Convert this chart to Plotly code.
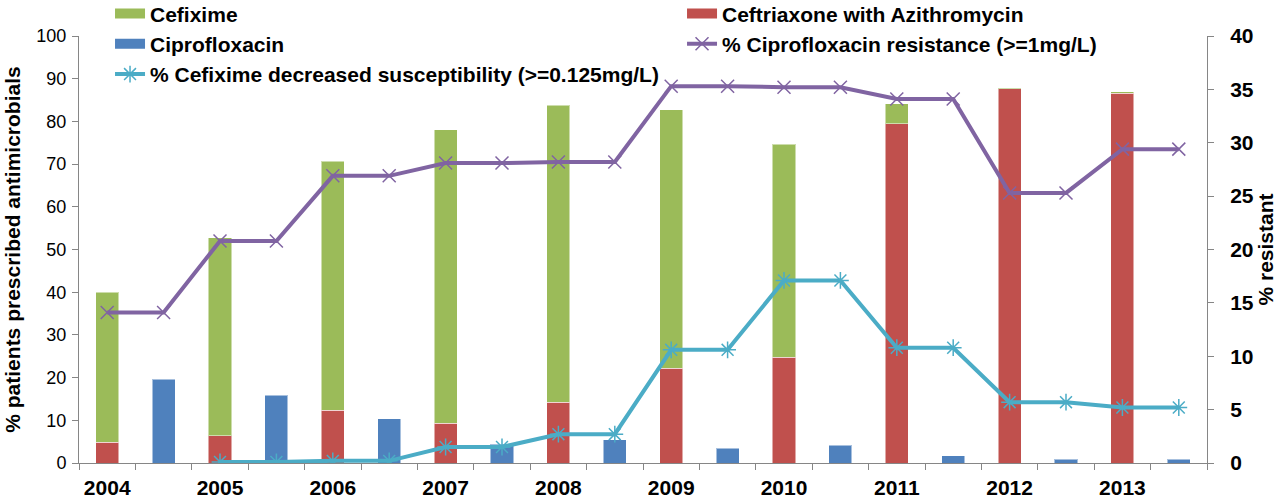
import plotly.graph_objects as go

# Prescribing (left axis, % patients) and resistance (right axis, %) by year
years = ["2004", "2005", "2006", "2007", "2008", "2009", "2010", "2011", "2012", "2013"]
ceftriaxone_azithromycin = [4.9, 6.4, 12.3, 9.3, 14.2, 22.2, 24.8, 79.4, 87.6, 86.6]
cefixime = [35.1, 46.3, 58.4, 68.7, 69.6, 60.5, 49.9, 4.7, 0.3, 0.3]
ciprofloxacin = [19.6, 15.9, 10.4, 4.4, 5.4, 3.4, 4.2, 1.7, 0.9, 0.9]

# resistance series, two points per year (first and second half)
cipro_resistance = [14.1, 14.1, 20.8, 20.8, 26.9, 26.9, 28.1, 28.1, 28.2, 28.2,
                    35.3, 35.3, 35.2, 35.2, 34.1, 34.1, 25.3, 25.3, 29.4, 29.4]
cefixime_decreased = [None, None, 0.1, 0.1, 0.2, 0.2, 1.5, 1.5, 2.7, 2.7,
                      10.6, 10.6, 17.1, 17.1, 10.8, 10.8, 5.7, 5.7, 5.2, 5.2]

# two slots per year: stacked bar in the first, ciprofloxacin bar in the second
year_x = [2 * i for i in range(len(years))]
half_x = [2 * i + 1 for i in range(len(years))]
slot_x = list(range(2 * len(years)))

FONT = "Liberation Sans, Arial, sans-serif"
GREY = "#868686"
BOLD = dict(family=FONT, size=21, color="black", weight="bold")

RED, GREEN, BLUE = "#C0504D", "#9BBB59", "#4F81BD"
PURPLE, CYAN = "#8064A2", "#4BACC6"
EDGE = dict(color="rgba(255,255,255,0.5)", width=1)


def bar(x, y, name, color):
    return go.Bar(x=x, y=y, name=name, width=0.41, legendgroup=name,
                  showlegend=False, marker=dict(color=color, line=EDGE))


def swatch(name, color, legend, rank):
    # wide legend key like the spreadsheet original
    return go.Scatter(x=[None], y=[None], mode="lines", name=name, legendgroup=name,
                      legend=legend, legendrank=rank,
                      line=dict(color=color, width=10))


fig = go.Figure()

# red first so it sits at the bottom of the stack
fig.add_trace(bar(year_x, ceftriaxone_azithromycin, "Ceftriaxone with Azithromycin", RED))
fig.add_trace(bar(year_x, cefixime, "Cefixime", GREEN))
fig.add_trace(bar(half_x, ciprofloxacin, "Ciprofloxacin", BLUE))

fig.add_trace(go.Scatter(
    x=slot_x, y=cipro_resistance, yaxis="y2", mode="lines+markers",
    name="% Ciprofloxacin resistance (>=1mg/L)", legend="legend2", legendrank=2,
    line=dict(color=PURPLE, width=4),
    marker=dict(symbol="x-thin", size=13, color=PURPLE, line=dict(color=PURPLE, width=1.5)),
))
fig.add_trace(go.Scatter(
    x=slot_x, y=cefixime_decreased, yaxis="y2", mode="lines+markers",
    name="% Cefixime decreased susceptibility (>=0.125mg/L)", legend="legend", legendrank=3,
    line=dict(color=CYAN, width=4),
    marker=dict(symbol="asterisk", size=14, color=CYAN, line=dict(color=CYAN, width=1.5)),
))

fig.add_trace(swatch("Cefixime", GREEN, "legend", 1))
fig.add_trace(swatch("Ciprofloxacin", BLUE, "legend", 2))
fig.add_trace(swatch("Ceftriaxone with Azithromycin", RED, "legend2", 1))

legend_style = dict(
    orientation="v", xanchor="left", yanchor="top", y=1.1,
    font=BOLD, bgcolor="rgba(0,0,0,0)", traceorder="normal", tracegroupgap=0,
)

fig.update_layout(
    width=1277,
    height=501,
    barmode="stack",
    template="plotly_white",
    plot_bgcolor="white",
    paper_bgcolor="white",
    margin=dict(l=79, r=70, t=36, b=38, pad=0, autoexpand=False),
    font=dict(family=FONT, color="black"),
    legend=dict(x=0.0275, **legend_style),
    legend2=dict(x=0.5346, **legend_style),
    xaxis=dict(
        range=[-0.5, 19.5], tickmode="array", tickvals=year_x, ticktext=years,
        ticks="", showline=True, linecolor=GREY, linewidth=1, ticklabelstandoff=6,
        showgrid=False, zeroline=False, tickfont=BOLD, automargin=False,
        minor=dict(tickmode="array", tickvals=[x - 0.5 for x in slot_x] + [19.5],
                   ticks="outside", ticklen=6, tickcolor=GREY, showgrid=False),
    ),
    yaxis=dict(
        range=[0, 100], dtick=10, ticks="outside", ticklen=6, tickcolor=GREY,
        showline=True, linecolor=GREY, showgrid=False, zeroline=False,
        ticklabelstandoff=2,
        tickfont=dict(family=FONT, size=18, color="black"), automargin=False,
        title=dict(text="% patients prescribed antimicrobials", font=BOLD, standoff=10),
    ),
    yaxis2=dict(
        overlaying="y", side="right", range=[0, 40], dtick=5,
        ticks="outside", ticklen=6, tickcolor=GREY,
        showline=True, linecolor=GREY, showgrid=False, zeroline=False,
        ticklabelstandoff=12, tickfont=BOLD, automargin=False,
        title=dict(text="% resistant", font=BOLD, standoff=8),
    ),
)

fig.write_html("out.html", config={"displayModeBar": False},
               post_script="document.body.style.margin='0';")
